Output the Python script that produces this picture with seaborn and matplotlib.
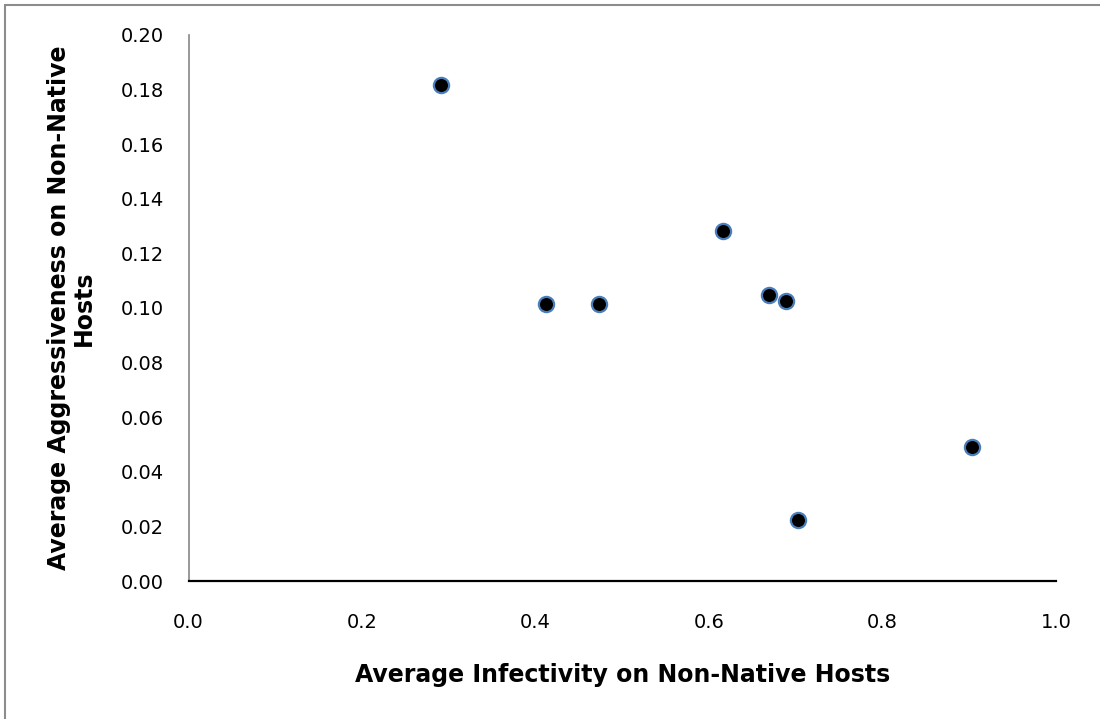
import matplotlib
matplotlib.use("Agg")
import matplotlib.pyplot as plt
import seaborn as sns
import pandas as pd
from matplotlib.patches import Rectangle

infectivity = [0.291, 0.412, 0.473, 0.616, 0.6695, 0.689, 0.703, 0.9035]
aggressiveness = [0.1816, 0.1015, 0.1013, 0.128, 0.1046, 0.1024, 0.0224, 0.0492]
x_ticks = [0.0, 0.2, 0.4, 0.6, 0.8, 1.0]
y_ticks = [0.00, 0.02, 0.04, 0.06, 0.08, 0.10, 0.12, 0.14, 0.16, 0.18, 0.20]
x_label = "Average Infectivity on Non-Native Hosts"
y_label = "Average Aggressiveness on Non-Native\nHosts"

df = pd.DataFrame({"x": infectivity, "y": aggressiveness})

sns.set_theme(style="white")
plt.rcParams['font.family'] = ['DejaVu Sans']

fig = plt.figure(figsize=(11, 7.19), dpi=100)
ax = fig.add_axes([0.1714, 0.1917, 0.7886, 0.76])

sns.scatterplot(data=df, x="x", y="y", ax=ax, s=120, color="black",
                edgecolor="#4a7ebb", linewidth=1.6, zorder=3)

ax.set_xlim(0, 1.0)
ax.set_ylim(0, 0.20)
ax.set_xticks(x_ticks)
ax.set_xticklabels([f"{v:.1f}" for v in x_ticks])
ax.set_yticks(y_ticks)
ax.set_yticklabels([f"{v:.2f}" for v in y_ticks])

for side in ["top", "right"]:
    ax.spines[side].set_visible(False)
ax.spines["left"].set_color("#868686")
ax.spines["left"].set_linewidth(1.2)
ax.spines["bottom"].set_color("black")
ax.spines["bottom"].set_linewidth(1.6)

ax.tick_params(axis="y", direction="out", length=7, width=1.2, color="#868686",
               labelsize=14, labelcolor="black", pad=10.5)
ax.tick_params(axis="x", direction="out", length=6, width=1.2, color="black",
               labelsize=14, labelcolor="black", pad=17)

ax.set_xlabel(x_label, fontsize=17, fontweight="bold", color="black", labelpad=22)
ax.set_ylabel(y_label, fontsize=17, fontweight="bold", color="black", linespacing=1.05)
ax.yaxis.set_label_coords(-0.1066, 0.5)

fig.patches.append(Rectangle((5 / 1100, -0.1), 1.2, (719 - 5) / 719 + 0.1,
                             transform=fig.transFigure, fill=False,
                             edgecolor="#8c8c8c", linewidth=1.5))

fig.savefig("out.png", dpi=100, facecolor="white")
